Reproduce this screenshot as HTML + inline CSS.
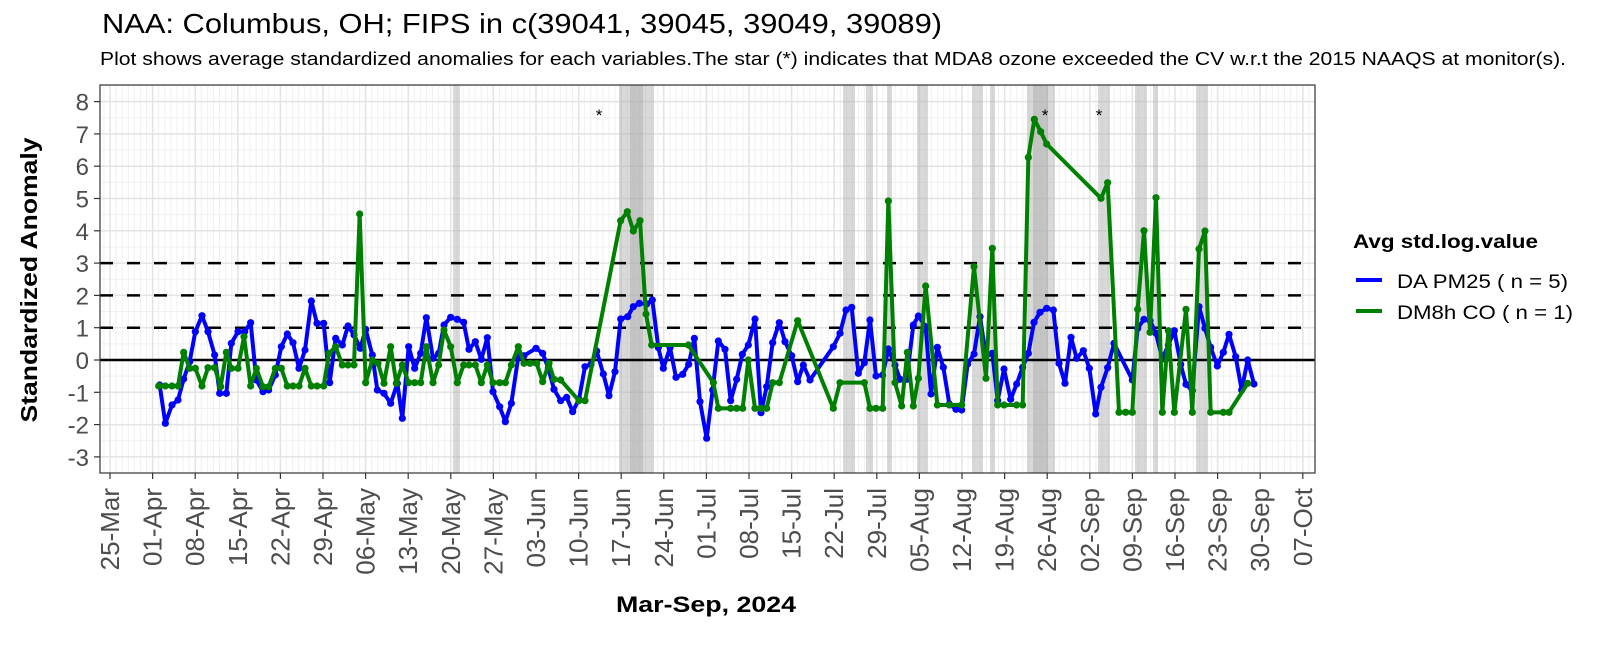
<!DOCTYPE html>
<html><head><meta charset="utf-8"><style>
body{margin:0;background:#fff;width:1600px;height:640px;overflow:hidden;font-family:"Liberation Sans",Arial,sans-serif}
</style></head><body>
<svg id="s" width="1600" height="640" xmlns="http://www.w3.org/2000/svg" font-family="Liberation Sans, Arial, sans-serif">
<text x="102" y="33" font-size="28" fill="#000" textLength="840" lengthAdjust="spacingAndGlyphs">NAA: Columbus, OH; FIPS in c(39041, 39045, 39049, 39089)</text>
<text x="100" y="65" font-size="18" fill="#000" textLength="1466" lengthAdjust="spacingAndGlyphs">Plot shows average standardized anomalies for each variables.The star (*) indicates that MDA8 ozone exceeded the CV w.r.t the 2015 NAAQS at monitor(s).</text>
<g id="grid"></g>
<g id="bands" fill="#aaa" fill-opacity="0.45"></g>
<g id="ref"></g>
<g id="series"></g>
<rect x="100" y="85" width="1215" height="388" fill="none" stroke="#333" stroke-width="1.2"/>
<g id="axes" font-size="24" fill="#4d4d4d"></g>
<text x="599" y="121" font-size="17" text-anchor="middle">*</text>
<text x="1045" y="121" font-size="17" text-anchor="middle">*</text>
<text x="1099" y="121" font-size="17" text-anchor="middle">*</text>
<text transform="translate(37,280) rotate(-90)" font-size="23" font-weight="bold" text-anchor="middle" textLength="285" lengthAdjust="spacingAndGlyphs">Standardized Anomaly</text>
<text x="706" y="612" font-size="22" font-weight="bold" text-anchor="middle" textLength="180" lengthAdjust="spacingAndGlyphs">Mar-Sep, 2024</text>
<text x="1353" y="248" font-size="19" font-weight="bold" textLength="185" lengthAdjust="spacingAndGlyphs">Avg std.log.value</text>
<line x1="1356" y1="280" x2="1382" y2="280" stroke="#0000ff" stroke-width="4"/>
<text x="1397" y="288" font-size="19" textLength="171" lengthAdjust="spacingAndGlyphs">DA PM25 ( n = 5)</text>
<line x1="1356" y1="311" x2="1382" y2="311" stroke="#008000" stroke-width="4"/>
<text x="1397" y="319" font-size="19" textLength="176" lengthAdjust="spacingAndGlyphs">DM8h CO ( n = 1)</text>
</svg>
<script>
const NS="http://www.w3.org/2000/svg";
function el(p,t,a,txt){const e=document.createElementNS(NS,t);for(const k in a)e.setAttribute(k,a[k]);if(txt!==undefined)e.textContent=txt;document.getElementById(p).appendChild(e);return e;}
const L=100,R=1315,T=85,B=473,Y0=360,U=32.3;
const x0=110,dx=42.6;
for(let d=-2;d<=205;d++){const x=x0+d*dx/7;if(x<L||x>R)continue;el("grid","line",{x1:x,x2:x,y1:T,y2:B,stroke:"#f0f0f0","stroke-width":1});}
for(let v=-3.5;v<=8.5;v+=0.5){const y=Y0-v*U;if(y<T||y>B)continue;el("grid","line",{x1:L,x2:R,y1:y,y2:y,stroke:(v%1==0)?"#e3e3e3":"#f0f0f0","stroke-width":(v%1==0)?1.5:1});}
for(let w=0;w<=28;w++){const x=x0+w*dx;el("grid","line",{x1:x,x2:x,y1:T,y2:B,stroke:"#e3e3e3","stroke-width":1.5});}
[[453,460],[619,654],[630,643],[843,855],[866,873],[887,892],[917,928],[972,983],[990,995],[1027,1055],[1033,1048],[1098,1110],[1135,1147],[1153,1158],[1196,1208]].forEach(b=>el("bands","rect",{x:b[0],y:T,width:b[1]-b[0],height:B-T}));
[1,2,3].forEach(v=>el("ref","line",{x1:L,x2:R,y1:Y0-v*U,y2:Y0-v*U,stroke:"#000","stroke-width":2.5,"stroke-dasharray":"13,14"}));
el("ref","line",{x1:L,x2:R,y1:Y0,y2:Y0,stroke:"#000","stroke-width":2.5});
for(let v=-3;v<=8;v++){const y=Y0-v*U;el("axes","text",{x:89,y:y+9,"text-anchor":"end"},v);el("axes","line",{x1:94,x2:100,y1:y,y2:y,stroke:"#333","stroke-width":1.2});}
const labs=["25-Mar","01-Apr","08-Apr","15-Apr","22-Apr","29-Apr","06-May","13-May","20-May","27-May","03-Jun","10-Jun","17-Jun","24-Jun","01-Jul","08-Jul","15-Jul","22-Jul","29-Jul","05-Aug","12-Aug","19-Aug","26-Aug","02-Sep","09-Sep","16-Sep","23-Sep","30-Sep","07-Oct"];
labs.forEach((s,i)=>{const x=x0+i*dx;el("axes","line",{x1:x,x2:x,y1:B,y2:B+6,stroke:"#333","stroke-width":1.2});el("axes","text",{transform:`translate(${x+9},${B+15}) rotate(-90)`,"text-anchor":"end","font-size":"26"},s);});
function conv(o,arr,min,max){return arr.filter(p=>p[0]>=min&&p[0]<=max).map(p=>[o[0]+p[0]/3,o[1]+p[1]/3]);}
const b1=[[200,585],[217,700],[237,645],[255,630],[272,567],[290,515],[307,425],[327,377],[345,425],[365,495],[380,610],[400,610],[415,460],[435,425],[455,425],[473,398],[490,570],[510,605],[527,600],[547,555],[565,470],[583,432],[600,458],[618,535],[636,480],[655,333],[672,400],[692,400],[710,578],[728,445],[748,465],[765,408],[783,435],[802,475],[818,418],[838,495],[853,600],[873,610],[893,640],[913,580],[928,685],[947,470],[965,535],[983,490],[1000,383],[1020,505],[1037,490],[1053,405],[1073,382],[1093,388],[1112,397],[1128,478],[1147,455],[1165,508],[1183,443],[1200,605],[1220,650],[1237,695],[1255,640]];
const g1=[[197,588],[217,588],[237,588],[255,588],[272,487],[290,535],[307,535],[327,588],[345,533],[365,533],[383,590],[400,487],[415,535],[435,535],[453,440],[473,588],[490,535],[510,590],[527,590],[547,535],[565,535],[583,588],[600,588],[618,588],[636,535],[655,588],[672,588],[692,588],[708,490],[728,470],[748,525],[765,525],[783,525],[800,72],[818,578],[838,510],[855,520],[873,580],[893,470],[910,580],[928,525],[947,578],[965,578],[983,578],[1000,470],[1020,578],[1037,525],[1053,420],[1073,470],[1093,578],[1112,525],[1128,525],[1147,525],[1165,578],[1183,525],[1200,578],[1220,578],[1237,578],[1255,525]];
const b2=[[55,500],[72,497],[108,475],[128,490],[145,535],[162,598],[182,632],[200,622],[218,665],[237,628],[255,530],[273,523],[290,483],[310,552],[327,617],[345,545],[362,387],[383,380],[400,350],[418,340],[440,342],[457,330],[475,473],[490,535],[510,473],[528,562],[548,553],[566,523],[583,445],[600,635],[620,745],[638,600],[655,453],[675,478],[692,632],[710,568],[727,493],[745,465],[765,387],[783,668],[800,590],[818,458],[838,398],[855,455],[875,497],[893,575],[910,525],[930,570],[1000,470],[1020,430],[1038,360],[1055,352],[1075,550],[1093,518],[1110,390],[1128,558],[1148,555],[1165,477],[1185,525],[1200,568],[1220,568],[1240,405],[1255,378]];
const g2=[[55,470],[72,520],[90,520],[110,520],[128,575],[147,520],[162,568],[182,570],[237,632],[255,632],[362,92],[382,65],[400,123],[420,92],[438,372],[455,465],[565,465],[640,578],[655,655],[692,655],[710,655],[728,655],[745,510],[765,655],[783,655],[800,655],[818,578],[838,578],[893,392],[1000,655],[1020,578],[1093,578],[1110,655],[1128,655],[1148,655],[1165,33],[1185,578],[1205,648],[1222,487],[1240,648],[1255,565]];
const b3=[[137,680],[153,882],[172,742],[190,802],[208,912],[228,928],[245,930],[263,792],[282,762],[300,650],[318,770],[337,760],[353,902],[372,807],[392,898],[410,852],[428,802],[445,760],[462,667],[480,637],[500,625],[520,630],[537,790],[555,850],[573,712],[590,775],[610,752],[628,805],[647,942],[663,862],[683,803],[702,730],[757,840],[773,685],[792,658],[810,662],[828,700],[847,777],[865,735],[883,692],[902,793],[918,853],[937,872],[957,620],[975,685],[992,742],[1012,798],[1030,757],[1047,703],[1067,770],[1085,870],[1103,780],[1122,852]];
const g3=[[137,558],[172,915],[208,915],[245,915],[282,500],[318,835],[337,445],[353,915],[372,915],[410,915],[428,915],[445,172],[463,58],[482,95],[500,132],[663,295],[683,248],[717,937],[737,937],[757,937],[773,628],[792,392],[810,697],[828,293],[847,937],[865,692],[883,937],[918,628],[937,937],[957,447],[975,393],[992,937],[1030,937],[1047,937],[1103,850]];
const blue=[...conv([93,190],b1,0,9999),...conv([500,190],b2,45,9999),...conv([880,100],b3,0,9999)];
const green=[...conv([93,190],g1,0,9999),...conv([500,190],g2,45,9999),...conv([880,100],g3,0,9999)];
function draw(pts,c){el("series","polyline",{points:pts.map(p=>p.join(",")).join(" "),fill:"none",stroke:c,"stroke-width":4,"stroke-linejoin":"round"});pts.forEach(p=>el("series","circle",{cx:p[0],cy:p[1],r:3.6,fill:c}));}
draw(blue,"#0000ff");draw(green,"#008000");
</script>
</body></html>
